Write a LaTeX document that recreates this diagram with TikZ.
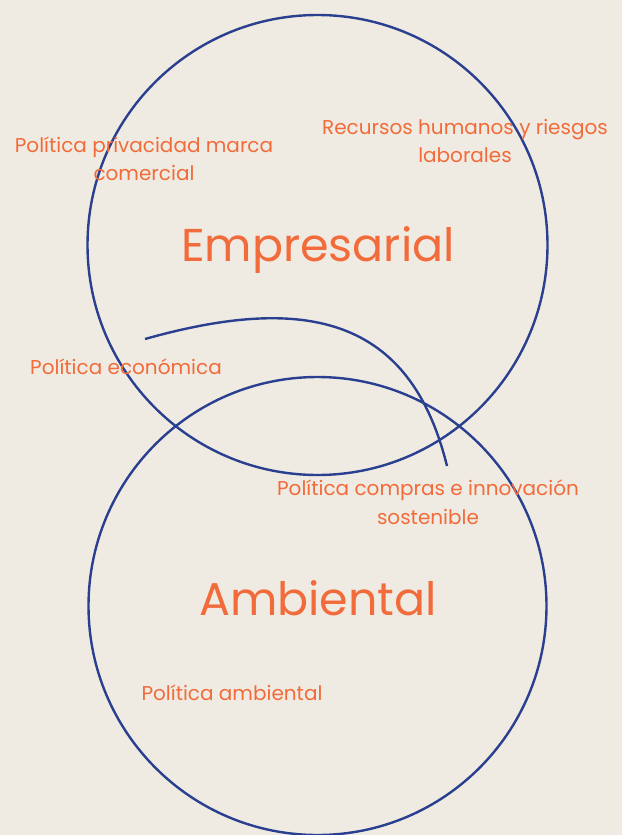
\documentclass[tikz,border=0pt]{standalone}
\usepackage{fontspec}
\setmainfont{Poppins}
\definecolor{fondo}{HTML}{EFEBE2}
\definecolor{azul}{HTML}{2A3F8F}
\definecolor{naranja}{HTML}{F26B3A}
\tikzset{
  circulo/.style={draw=azul, line width=2.4pt},
  etiqueta/.style={text=naranja, align=center, font=\fontsize{20}{28.5}\selectfont, inner sep=0pt},
  titulo/.style={text=naranja, font=\fontsize{46}{50}\selectfont, inner sep=0pt}
}
\begin{document}
\begin{tikzpicture}[x=1pt,y=-1pt]

        \fill[color=fondo] (0,0) rectangle (622,835);
        \useasboundingbox (0,0) rectangle (622,835);

        % circulos
        \draw[circulo] (317.5,245) circle (230);
        \draw[circulo] (317.5,606) circle (229);

        \coordinate (arcoA) at (145,339);
        \coordinate (arcoB) at (447,466);
        \draw[circulo] (arcoA) .. controls (305,294) and (410,316) .. (arcoB);

        \node[titulo] (empresarial) at (318,250) {Empresarial};
        \node[titulo] (ambiental) at (318,598) {Ambiental};

        \node[etiqueta] (privacidad) at (144,159) {Política privacidad marca\\comercial};
        \node[etiqueta] (recursos) at (465,141) {Recursos humanos y riesgos\\laborales};
        \node[etiqueta] (economica) at (126,367) {Política económica};
        \node[etiqueta] (compras) at (428,502) {Política compras e innovación\\sostenible};
        \node[etiqueta] (politamb) at (232,693) {Política ambiental};
    \end{tikzpicture}
\end{document}
